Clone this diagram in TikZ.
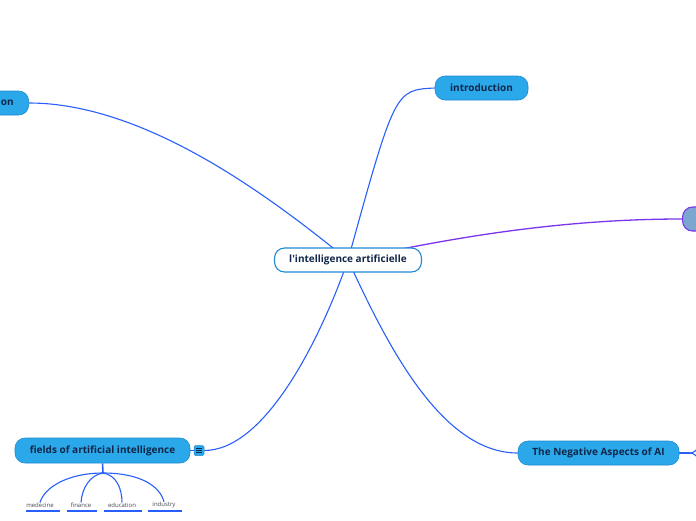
\documentclass[tikz,border=0pt]{standalone}
\usepackage{fontspec}
\setmainfont{Open Sans}
\usetikzlibrary{positioning,backgrounds}
\definecolor{MapFill}{RGB}{42,168,234}
\definecolor{MapBorder}{RGB}{32,138,212}
\definecolor{MapNavy}{RGB}{16,38,72}
\definecolor{MapLine}{RGB}{40,95,250}
\definecolor{MapPurple}{RGB}{122,52,236}
\definecolor{MapSteel}{RGB}{122,166,208}
\definecolor{MapGray}{RGB}{70,70,80}
\tikzset{
  map/root/.style={
    draw=MapBorder,
    line width=1.1pt,
    rounded corners=10pt,
    fill=white,
    text=MapNavy,
    minimum height=24pt,
    font=\fontsize{10}{12}\selectfont\bfseries
  },
  map/topic/.style={
    draw=MapBorder,
    line width=0.6pt,
    rounded corners=10pt,
    fill=MapFill,
    text=MapNavy,
    minimum height=24pt,
    font=\fontsize{10}{12}\selectfont\bfseries
  },
  map/note/.style={
    draw=MapBorder,
    line width=0.5pt,
    rounded corners=1.5pt,
    fill=MapFill,
    minimum size=10pt,
    inner sep=0pt
  },
  map/sub/.style={font=\fontsize{6}{7}\selectfont, text=MapGray, inner sep=0pt},
  map/line/.style={draw=MapLine, line width=1.1pt},
  map/purpleline/.style={draw=MapPurple, line width=1.3pt},
  map/underline/.style={draw=MapLine, line width=1.8pt}
}

\begin{document}
\begin{tikzpicture}[x=1pt,y=-1pt]
  \clip (0,0) rectangle (696,520);
  \useasboundingbox (0,0) rectangle (696,520);

  % main topics
  \node[map/root,minimum width=147pt] (root) at (348,260) {l\textquotesingle intelligence artificielle};
  \node[map/topic,minimum width=93pt] (intro) at (481.5,88) {introduction};
  \node[map/topic,anchor=east,minimum width=120pt,text width=100pt,align=right,inner xsep=15pt] (left) at (29,103) {on};
  \node[map/topic,draw=MapPurple,line width=1.1pt,fill=MapSteel,anchor=west,minimum width=60pt] (purple) at (682,219) {};
  \node[map/topic,minimum width=161pt] (neg) at (598.5,453) {The Negative Aspects of AI};
  \node[map/topic,minimum width=175pt,minimum height=25pt] (fields) at (102.5,450.5) {fields of artificial intelligence};
  \node[map/note] (fieldsnote) at (199,450.5) {};
  \draw[MapNavy,line width=0.9pt] ([xshift=-2.8pt,yshift=-2.2pt]fieldsnote.center) -- +(5.6,0)
    ([xshift=-2.8pt]fieldsnote.center) -- +(5.6,0)
    ([xshift=-2.8pt,yshift=2.2pt]fieldsnote.center) -- +(5.6,0);

  % fields of ai
  \node[map/sub] (medecine) at (40,505) {medecine};
  \node[map/sub] (finance) at (81,505) {finance};
  \node[map/sub] (education) at (122,505) {education};
  \node[map/sub] (industry) at (164,505) {industry};
  \draw[map/underline] (26,511) -- (60,511);
  \draw[map/underline] (67,511) -- (97,511);
  \draw[map/underline] (104,511) -- (142,511);
  \draw[map/underline] (148,511) -- (182,511);
  \coordinate (fieldsfork) at (103,473);
  \coordinate (negfork) at (690,453);

  \begin{scope}[on background layer]
    \draw[map/line] (root.center) .. controls (395,90) .. (intro.west);
    \draw[map/line] (root.center) .. controls (280,205) and (150,103) .. (left.east);
    \draw[map/purpleline] (root.center) .. controls (420,245) and (540,219) .. (purple.west);
    \draw[map/line] (root.center) .. controls (385,340) and (440,453) .. (neg.west);
    \draw[map/line] (root.center) .. controls (320,340) and (265,450.5) .. (fieldsnote.east);
    \draw[map/line] (fieldsnote.west) -- (fields.east);
    % sub branches
    \draw[map/line,line width=1.6pt] (fields.south) -- (fieldsfork);
    \draw[map/line] (fieldsfork) .. controls (70,473) and (45,486) .. (medecine.north);
    \draw[map/line] (fieldsfork) .. controls (90,475) and (82,488) .. (finance.north);
    \draw[map/line] (fieldsfork) .. controls (116,475) and (122,488) .. (education.north);
    \draw[map/line] (fieldsfork) .. controls (140,473) and (160,486) .. (industry.north);
    \draw[map/line,line width=1.6pt] (neg.east) -- (negfork);
    \draw[map/line] (negfork) .. controls (698,453) and (702,440) .. (712,430);
    \draw[map/line] (negfork) .. controls (698,453) and (702,466) .. (712,476);
  \end{scope}
\end{tikzpicture}
\end{document}
